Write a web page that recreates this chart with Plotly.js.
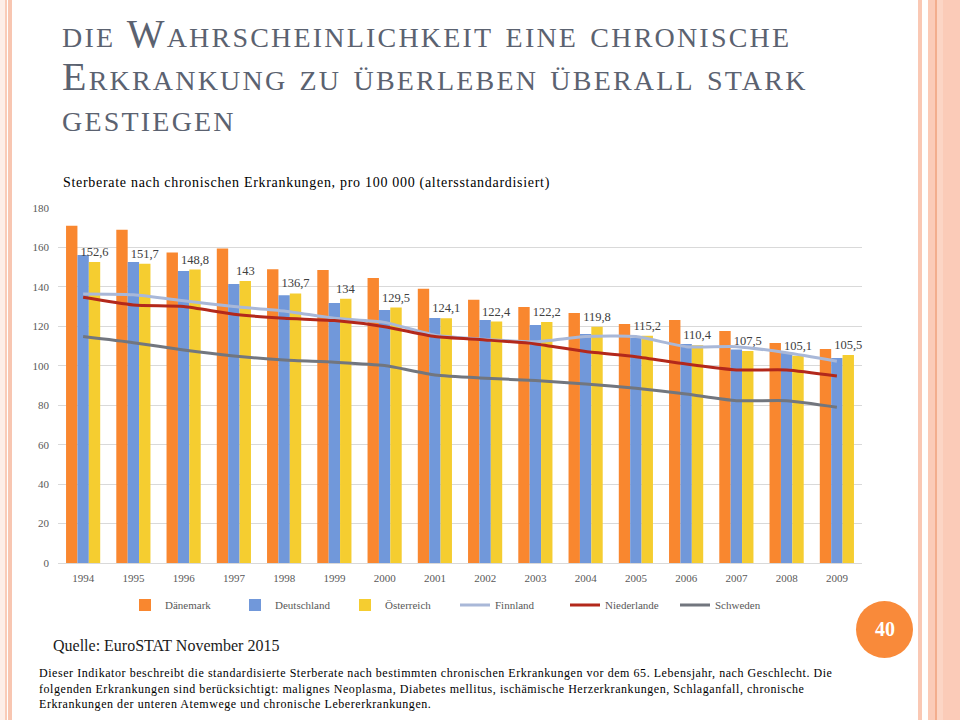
<!DOCTYPE html>
<html>
<head>
<meta charset="utf-8">
<script src="https://cdn.plot.ly/plotly-3.0.1.min.js"></script>
<style>
  html, body { margin: 0; padding: 0; background: #fff; }
  #myDiv { width: 960px; height: 720px; }
</style>
</head>
<body>
<div id="myDiv"></div>
<script>
// values
var years = ['1994', '1995', '1996', '1997', '1998', '1999', '2000', '2001',
             '2002', '2003', '2004', '2005', '2006', '2007', '2008', '2009'];

var daenemark   = [171, 169, 157.5, 159.5, 149, 148.6, 144.5, 139, 133.5, 129.8, 126.8, 121.2, 123.2, 117.6, 111.6, 108.5];
var deutschland = [156.2, 152.6, 148.1, 141.5, 135.7, 131.8, 128.3, 124.2, 123.2, 120.7, 116.1, 114.1, 111.1, 108.2, 106.5, 104];
var oesterreich = [152.6, 151.7, 148.8, 143, 136.7, 134, 129.5, 124.1, 122.4, 122.2, 119.8, 115.2, 110.4, 107.5, 105.1, 105.5];
var finnland    = [136.4, 136, 133, 130, 127.8, 124.1, 122, 115.5, 113.4, 112.2, 114.8, 114.8, 109.7, 109.7, 106.6, 102.3];
var niederlande = [134.7, 130.8, 130, 126.1, 124.1, 122.9, 119.8, 114.8, 113.1, 111.1, 107.2, 104.6, 100.9, 97.9, 97.9, 94.8];
var schweden    = [114.8, 111.7, 108, 105, 102.9, 101.8, 100.1, 95.3, 93.7, 92.5, 90.8, 88.6, 85.7, 82.3, 82.3, 79];

var serif = 'Liberation Serif, Times New Roman, serif';

// plot box in page pixels, used to place the slide decorations
var PL = 58, PR = 862, PT = 208, PB = 563;
function px(p) { return (p - PL) / (PR - PL); }
function py(p) { return (PB - p) / (PB - PT); }

function bar(name, vals, color) {
  return {
    type: 'bar',
    name: name,
    x: years,
    y: vals,
    marker: { color: color },
    hoverinfo: 'name+y'
  };
}

function line(name, vals, color) {
  return {
    type: 'scatter',
    mode: 'lines',
    name: name,
    x: years,
    y: vals,
    line: { color: color, width: 3, shape: 'spline', smoothing: 0.6 }
  };
}

var oe = bar('Österreich', oesterreich, '#F5CD30');
oe.text = oesterreich.map(function (v) { return String(v).replace('.', ','); });
oe.textposition = 'outside';
oe.constraintext = 'none';
oe.cliponaxis = false;
oe.textfont = { family: serif, size: 12.5, color: '#404040' };

var data = [
  bar('Dänemark', daenemark, '#F9872F'),
  bar('Deutschland', deutschland, '#7198DA'),
  oe,
  line('Finnland', finnland, '#A9B8D8'),
  line('Niederlande', niederlande, '#B3281B'),
  line('Schweden', schweden, '#72767E')
];

var titleFont = { family: serif, size: 40, color: '#5B6270', variant: 'small-caps' };
var sp = function (t, s) { return '<span style="letter-spacing:' + s + 'px">' + t + '</span>'; };

var layout = {
  width: 960,
  height: 720,
  margin: { l: PL, r: 960 - PR, t: PT, b: 720 - PB },
  paper_bgcolor: '#ffffff',
  plot_bgcolor: '#ffffff',
  barmode: 'group',
  bargap: 0.32,
  bargroupgap: 0,
  showlegend: true,
  legend: {
    orientation: 'h',
    x: px(455), xanchor: 'center',
    y: py(605), yanchor: 'middle',
    entrywidth: 65,
    font: { family: serif, size: 11, color: '#595959' },
    traceorder: 'normal'
  },
  xaxis: {
    type: 'category',
    showgrid: false,
    showline: true,
    linecolor: '#D9D9D9',
    ticks: '',
    ticklabelstandoff: 5,
    tickfont: { family: serif, size: 11, color: '#595959' }
  },
  yaxis: {
    range: [0, 180],
    dtick: 20,
    showline: false,
    gridcolor: '#D9D9D9',
    zerolinecolor: '#D9D9D9',
    ticks: '',
    ticklabelstandoff: 8,
    tickfont: { family: serif, size: 11, color: '#595959' }
  },
  shapes: [
    // slide border stripes
    { type: 'rect', xref: 'paper', yref: 'paper', x0: px(0), x1: px(5), y0: py(0), y1: py(720), fillcolor: '#FDEEE8', line: { width: 0 } },
    { type: 'rect', xref: 'paper', yref: 'paper', x0: px(5), x1: px(7), y0: py(0), y1: py(720), fillcolor: '#F9CBB8', line: { width: 0 } },
    { type: 'rect', xref: 'paper', yref: 'paper', x0: px(8), x1: px(12), y0: py(0), y1: py(720), fillcolor: '#F8C6B1', line: { width: 0 } },
    { type: 'rect', xref: 'paper', yref: 'paper', x0: px(918), x1: px(922), y0: py(0), y1: py(720), fillcolor: '#FAC8B4', line: { width: 0 } },
    { type: 'rect', xref: 'paper', yref: 'paper', x0: px(928), x1: px(960), y0: py(0), y1: py(720), fillcolor: '#FBCBB8', line: { width: 0 } },
    { type: 'rect', xref: 'paper', yref: 'paper', x0: px(937), x1: px(943), y0: py(0), y1: py(720), fillcolor: '#FCD5C5', line: { width: 0 } },
    { type: 'line', xref: 'paper', yref: 'paper', x0: px(936), x1: px(936), y0: py(0), y1: py(720), line: { color: '#EE9A72', width: 1.2 } },
    // page number badge
    { type: 'circle', xref: 'paper', yref: 'paper', x0: px(856), x1: px(913), y0: py(601), y1: py(658), fillcolor: '#F98A3A', line: { width: 0 } }
  ],
  annotations: [
    { text: sp('die Wahrscheinlichkeit eine chronische', 2.2), xref: 'paper', yref: 'paper', x: px(60), y: py(33), xanchor: 'left', yanchor: 'middle', showarrow: false, font: titleFont },
    { text: sp('Erkrankung zu überleben überall stark', 2.2), xref: 'paper', yref: 'paper', x: px(60), y: py(76), xanchor: 'left', yanchor: 'middle', showarrow: false, font: titleFont },
    { text: sp('gestiegen', 2.2), xref: 'paper', yref: 'paper', x: px(60), y: py(118), xanchor: 'left', yanchor: 'middle', showarrow: false, font: titleFont },
    { text: sp('Sterberate nach chronischen Erkrankungen, pro 100 000 (altersstandardisiert)', 0.7), xref: 'paper', yref: 'paper', x: px(61), y: py(183), xanchor: 'left', yanchor: 'middle', showarrow: false, font: { family: serif, size: 14, color: '#000000' } },
    { text: 'Quelle: EuroSTAT November 2015', xref: 'paper', yref: 'paper', x: px(51), y: py(645), xanchor: 'left', yanchor: 'middle', showarrow: false, font: { family: serif, size: 16, color: '#1A1A1A' } },
    { text: sp('Dieser Indikator beschreibt die standardisierte Sterberate nach bestimmten chronischen Erkrankungen vor dem 65. Lebensjahr, nach Geschlecht. Die', 0.55) + '<br>' +
            sp('folgenden Erkrankungen sind berücksichtigt: malignes Neoplasma, Diabetes mellitus, ischämische Herzerkrankungen, Schlaganfall, chronische', 0.55) + '<br>' +
            sp('Erkrankungen der unteren Atemwege und chronische Lebererkrankungen.', 0.55),
      xref: 'paper', yref: 'paper', x: px(37), y: py(688), xanchor: 'left', yanchor: 'middle', align: 'left', showarrow: false,
      font: { family: serif, size: 12, color: '#000000' } },
    { text: '<b>40</b>', xref: 'paper', yref: 'paper', x: px(884.5), y: py(629), xanchor: 'center', yanchor: 'middle', showarrow: false, font: { family: serif, size: 20, color: '#ffffff' } }
  ]
};

Plotly.newPlot('myDiv', data, layout, { displayModeBar: false, staticPlot: true });
</script>
</body>
</html>
